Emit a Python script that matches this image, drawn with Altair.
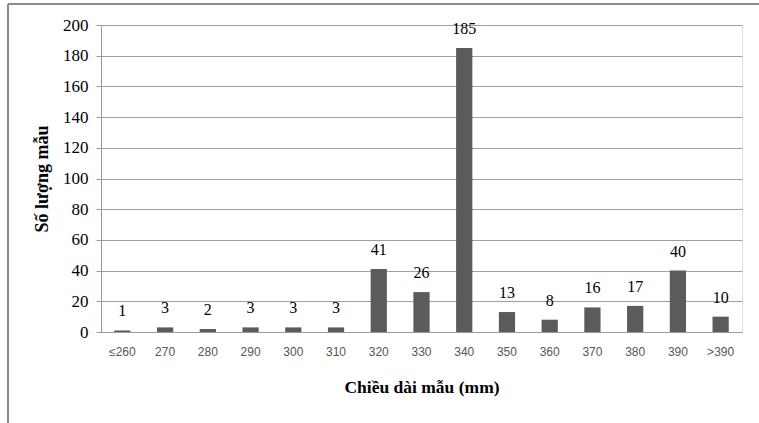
import altair as alt
import pandas as pd

# Length classes (mm) and number of samples in each class
classes = ["≤260", "270", "280", "290", "300", "310", "320", "330",
           "340", "350", "360", "370", "380", "390", ">390"]
counts = [1, 3, 2, 3, 3, 3, 41, 26, 185, 13, 8, 16, 17, 40, 10]
y_ticks = [0, 20, 40, 60, 80, 100, 120, 140, 160, 180, 200]

df = pd.DataFrame({"cls": classes, "n": counts})

W, H = 641, 307
SERIF = "Liberation Serif, Times New Roman, serif"
SANS = "Liberation Sans, Arial, sans-serif"

x_enc = alt.X(
    "cls:N", sort=classes,
    scale=alt.Scale(paddingInner=0.62, paddingOuter=0.31),
    axis=alt.Axis(title="Chiều dài mẫu (mm)", labelAngle=0, labelFont=SANS,
                  labelFontSize=12, labelColor="#555555", labelPadding=14,
                  ticks=False, domainColor="#9a9a9a", titleFont=SERIF,
                  titleFontSize=17.5, titleFontWeight="bold", titleColor="#000000",
                  titlePadding=21),
)
y_enc = alt.Y(
    "n:Q", scale=alt.Scale(domain=[0, 200], nice=False),
    axis=alt.Axis(title="Số lượng mẫu", values=y_ticks, labelFont=SERIF,
                  labelFontSize=17, labelColor="#000000", labelPadding=8,
                  labelOverlap=False, labelBound=False,
                  tickSize=5, tickColor="#9a9a9a", domainColor="#9a9a9a",
                  gridColor="#a0a0a0", titleFont=SERIF, titleFontSize=18,
                  titleFontWeight="bold", titleColor="#000000", titlePadding=11),
)

bars = alt.Chart(df).mark_bar(color="#5b5b5b").encode(x=x_enc, y=y_enc)

labels = alt.Chart(df).mark_text(
    font=SERIF, fontSize=16, color="#000000", baseline="bottom", dy=-11
).encode(x=x_enc, y=y_enc, text="n:Q")

# outer frame of the chart
frame_top = alt.Chart(df).mark_rule(color="#8a8a8a", strokeWidth=2, clip=False).encode(
    x=alt.value(-93), x2=alt.value(W + 30), y=alt.value(-21))
frame_left = alt.Chart(df).mark_rule(color="#8a8a8a", strokeWidth=2, clip=False).encode(
    x=alt.value(-93), y=alt.value(-21), y2=alt.value(H + 120))

chart = alt.layer(bars, labels, frame_top, frame_left).properties(
    width=W, height=H,
    autosize=alt.AutoSizeParams(type="none"),
    padding={"left": 101, "top": 25, "right": 17, "bottom": 91},
).configure_view(stroke=None).configure(background="#ffffff")

chart.save("out.html", embed_options={"renderer": "svg", "actions": False})
